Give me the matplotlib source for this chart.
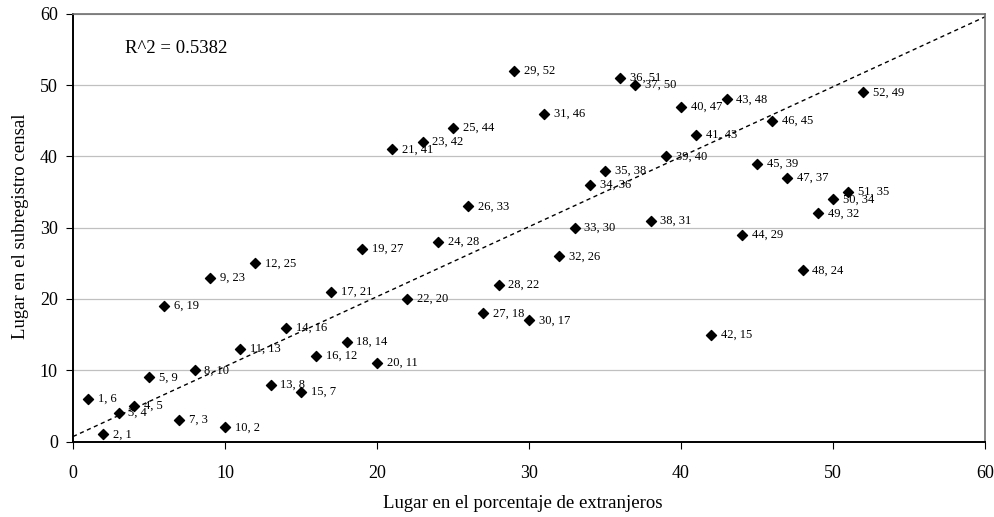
import numpy as np
import matplotlib.pyplot as plt

plt.rcParams["font.family"] = ["Liberation Serif", "DejaVu Serif"]

# lugar en el porcentaje de extranjeros / lugar en el subregistro censal
x_rank = [1, 2, 3, 4, 5, 6, 7, 8, 9, 10, 11, 12, 13, 14, 15, 16, 17, 18, 19, 20,
          21, 22, 23, 24, 25, 26, 27, 28, 29, 30, 31, 32, 33, 34, 35, 36, 37, 38, 39, 40,
          41, 42, 43, 44, 45, 46, 47, 48, 49, 50, 51, 52]
y_rank = [6, 1, 4, 5, 9, 19, 3, 10, 23, 2, 13, 25, 8, 16, 7, 12, 21, 14, 27, 11,
          41, 20, 42, 28, 44, 33, 18, 22, 52, 17, 46, 26, 30, 36, 38, 51, 50, 31, 40, 47,
          43, 15, 48, 29, 39, 45, 37, 24, 32, 34, 35, 49]

trend_x = [0, 60]
trend_y = [0.7, 59.6]
r2_text = "R^2 = 0.5382"

fig = plt.figure(figsize=(9.95, 5.17), dpi=100)
ax = fig.add_axes([0.0734, 0.146, 0.9166, 0.827])

ax.plot(trend_x, trend_y, linestyle=(0, (3, 2.5)), color="black", linewidth=1, zorder=2)
ax.scatter(x_rank, y_rank, marker="D", s=26, color="black", zorder=3)

for xv, yv in zip(x_rank, y_rank):
    ax.annotate(f"{xv}, {yv}", (xv, yv), xytext=(7, 0), textcoords="offset points",
                va="center", ha="left", fontsize=9, zorder=4)

ax.text(3.4, 55.2, r2_text, fontsize=13.5, va="center", ha="left")

ax.set_xlim(0, 60)
ax.set_ylim(0, 60)
ax.set_xticks(range(0, 61, 10))
ax.set_yticks(range(0, 61, 10))
ax.yaxis.grid(True, color="#c0c0c0", linewidth=0.9)
ax.set_axisbelow(True)
ax.tick_params(direction="out", length=5, labelsize=13, color="black")
ax.tick_params(axis="x", pad=12)
ax.tick_params(axis="y", pad=6)

for side in ["left", "bottom"]:
    ax.spines[side].set_color("black")
    ax.spines[side].set_linewidth(1.4)
for side in ["top", "right"]:
    ax.spines[side].set_color("#707070")
    ax.spines[side].set_linewidth(1.2)

ax.set_xlabel("Lugar en el porcentaje de extranjeros", fontsize=13.5, va="center")
ax.set_ylabel("Lugar en el subregistro censal", fontsize=13.5, va="center")
ax.xaxis.set_label_coords(0.493, -0.144)
ax.yaxis.set_label_coords(-0.058, 0.504)

fig.savefig("out.png", dpi=100)
